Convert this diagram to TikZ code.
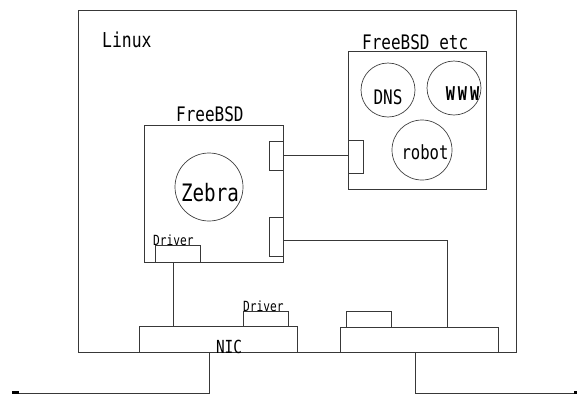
\documentclass[tikz,border=0pt]{standalone}
\usepackage{fontspec}
\newfontfamily\gf{DejaVu Sans Mono}[FakeStretch=0.8]
\begin{document}
\begin{tikzpicture}[x=1pt,y=-1pt,
  ln/.style={draw=black!78,line width=0.9pt},
  box/.style={ln,rectangle,inner sep=0pt,minimum width=#1},
  circ/.style={draw=black!75,line width=0.7pt,circle,inner sep=0pt,minimum size=#1},
  lbl/.style={inner sep=0pt,font=\gf\fontsize{#1}{#1}\selectfont,text=black}]
\useasboundingbox (0,0) rectangle (577,394);
% boxes
\node[box=438pt,minimum height=342pt] (linux) at (297,181) {};
\node[box=139pt,minimum height=137pt] (fbsd) at (213.5,193.5) {};
\node[box=14pt,minimum height=29pt] (fport1) at (276,155.5) {};
\node[box=14pt,minimum height=39pt] (fport2) at (276,236.5) {};
\node[box=138pt,minimum height=138pt] (etc) at (417,120) {};
\node[box=15pt,minimum height=33pt] (eport) at (355.5,156.5) {};
\node[box=45pt,minimum height=17pt] (drv1) at (177.5,253.5) {};
\node[box=158pt,minimum height=26pt,fill=white] (nic1) at (218,339) {};
\node[box=45pt,minimum height=15pt] (drv2) at (265.5,318.5) {};
\node[box=158pt,minimum height=25pt,fill=white] (nic2) at (419,339.5) {};
\node[box=45pt,minimum height=16pt] (pad2) at (368.5,319) {};
% circles
\node[circ=54pt] (dns) at (388,90) {};
\node[circ=54pt] (www) at (454,88) {};
\node[circ=60pt] (robot) at (422,150) {};
\node[circ=68pt] (zebra) at (209,187) {};
% labels
\node[lbl=20.5,anchor=base west] (tlinux) at (102,47) {Linux};
\node[lbl=20,anchor=base west] (tfbsd) at (176,121) {FreeBSD};
\node[lbl=20,anchor=base west] (tetc) at (362,49) {FreeBSD etc};
\node[lbl=24,anchor=base] (tzebra) at (210,201) {Zebra};
\node[lbl=20,anchor=base] (tdns) at (388,104) {DNS};
\node[lbl=19,anchor=base,font=\gf\bfseries\fontsize{19}{19}\selectfont] (twww) at (462.5,100) {W\kern3ptW\kern3ptW};
\node[lbl=19.5,anchor=base] (trobot) at (425,159) {robot};
\node[lbl=14,anchor=base west] (tdrv1) at (153,245) {Driver};
\node[lbl=14,anchor=base west] (tdrv2) at (243,311) {Driver};
\node[lbl=18,anchor=base] (tnic) at (229,353) {NIC};
% connectors
\coordinate (d1) at (173,262);
\coordinate (n1in) at (173,326);
\coordinate (n2in) at (447,327);
\coordinate (n1out) at (209,352);
\coordinate (n2out) at (415,352);
\coordinate (wl) at (12,393);
\coordinate (wr) at (577,393);
\draw[ln] (fport1.east) -- (fport1.east -| eport.west);
\draw[ln] (fport2.east |- 0,240) -| (n2in);
\draw[ln] (d1) -- (n1in);
\draw[ln] (n1out) |- (wl);
\draw[ln] (n2out) |- (wr);
\fill[black] (12,391) rectangle (19,393.5);
\fill[black] (574,390.5) rectangle (577,394);
\end{tikzpicture}
\end{document}
